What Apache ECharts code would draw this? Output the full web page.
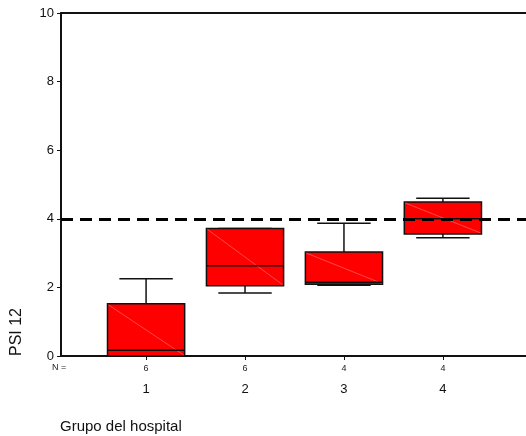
<!DOCTYPE html>
<html>
<head>
<meta charset="utf-8">
<script src="https://cdn.jsdelivr.net/npm/echarts@6/dist/echarts.min.js"></script>
<style>
html,body{margin:0;padding:0;background:#fff;}
#chart{width:526px;height:436px;}
</style>
</head>
<body>
<div id="chart"></div>
<script>
const groups = [1, 2, 3, 4];
const counts = [6, 6, 4, 4];
const minV = [0, 1.84, 2.06, 3.45];
const q1V = [0, 2.05, 2.09, 3.56];
const medV = [0.17, 2.63, 2.15, 4.0];
const q3V = [1.52, 3.72, 3.03, 4.49];
const maxV = [2.25, 3.72, 3.87, 4.60];
const refValue = 4;
const yTicks = [0, 2, 4, 6, 8, 10];

const chart = echarts.init(document.getElementById('chart'));
const boxHalf = 0.39;
const capHalf = 0.27;
const FONT = 'Liberation Sans, Arial, sans-serif';

const data = groups.map((g, i) => [g, minV[i], q1V[i], medV[i], q3V[i], maxV[i]]);

function renderItem(params, api) {
  const x = api.value(0);
  const mn = api.value(1), q1 = api.value(2), md = api.value(3), q3 = api.value(4), mx = api.value(5);
  const pL = (y) => api.coord([x - boxHalf, y]);
  const pR = (y) => api.coord([x + boxHalf, y]);
  const cL = (y) => api.coord([x - capHalf, y]);
  const cR = (y) => api.coord([x + capHalf, y]);
  const c = (y) => api.coord([x, y]);
  const ls = { stroke: '#111', lineWidth: 1.5 };
  const children = [];
  children.push({ type: 'line', shape: { x1: c(q3)[0], y1: c(q3)[1], x2: c(mx)[0], y2: c(mx)[1] }, style: ls });
  children.push({ type: 'line', shape: { x1: cL(mx)[0], y1: cL(mx)[1], x2: cR(mx)[0], y2: cR(mx)[1] }, style: ls });
  children.push({ type: 'line', shape: { x1: c(q1)[0], y1: c(q1)[1], x2: c(mn)[0], y2: c(mn)[1] }, style: ls });
  children.push({ type: 'line', shape: { x1: cL(mn)[0], y1: cL(mn)[1], x2: cR(mn)[0], y2: cR(mn)[1] }, style: ls });
  const tl = pL(q3), br = pR(q1);
  children.push({ type: 'rect', shape: { x: tl[0], y: tl[1], width: br[0] - tl[0], height: br[1] - tl[1] },
    style: { fill: '#ff0000', stroke: '#111', lineWidth: 1.5 } });
  children.push({ type: 'line', shape: { x1: tl[0] + 1, y1: tl[1] + 1, x2: br[0] - 1, y2: br[1] - 1 },
    style: { stroke: 'rgba(255,170,170,0.7)', lineWidth: 0.6 } });
  children.push({ type: 'line', shape: { x1: pL(md)[0], y1: pL(md)[1], x2: pR(md)[0], y2: pR(md)[1] }, style: ls });
  return { type: 'group', children };
}

chart.setOption({
  animation: false,
  backgroundColor: '#fff',
  grid: { left: 61, right: 0, top: 13, bottom: 80 },
  xAxis: [{
    type: 'value', min: 0.14, max: 4.84,
    splitLine: { show: false },
    axisLine: { show: true, onZero: false, lineStyle: { color: '#111', width: 2 } },
    axisTick: { show: true, customValues: groups, length: 4, lineStyle: { color: '#111' } },
    axisLabel: {
      show: true, customValues: groups, margin: 6, lineHeight: 20,
      formatter: (v) => { const i = groups.indexOf(v); return '{n|' + counts[i] + '}\n{c|' + v + '}'; },
      rich: {
        n: { fontSize: 9, fontFamily: FONT, color: '#222', lineHeight: 14 },
        c: { fontSize: 13, fontFamily: FONT, color: '#111', lineHeight: 26 }
      }
    }
  }, {
    type: 'value', position: 'top', min: 0.14, max: 4.84,
    splitLine: { show: false },
    axisLine: { show: true, onZero: false, lineStyle: { color: '#111', width: 2 } },
    axisTick: { show: false }, axisLabel: { show: false }
  }],
  yAxis: {
    type: 'value', min: 0, max: 10, interval: 2,
    splitLine: { show: false },
    axisLine: { show: true, onZero: false, lineStyle: { color: '#111', width: 2 } },
    axisTick: { show: true, length: 4, lineStyle: { color: '#111' } },
    axisLabel: { fontSize: 13, fontFamily: FONT, color: '#111', margin: 7,
      formatter: (v) => yTicks.includes(v) ? String(v) : '' }
  },
  graphic: [
    { type: 'text', left: 52, top: 363, style: { text: 'N =', fontSize: 9, fontFamily: FONT, fill: '#222' } },
    { type: 'text', left: 60, top: 419, style: { text: 'Grupo del hospital', fontSize: 15, fontFamily: FONT, fill: '#111' } },
    { type: 'text', x: 17, y: 332, rotation: Math.PI / 2,
      style: { text: 'PSI 12', fontSize: 16, fontFamily: FONT, fill: '#111', align: 'center', verticalAlign: 'middle' } }
  ],
  series: [{
    type: 'custom',
    renderItem: renderItem,
    data: data,
    encode: { x: 0, y: [1, 2, 3, 4, 5] },
    clip: false,
    z: 2,
    markLine: {
      silent: true, symbol: 'none', z: 5,
      label: { show: false },
      lineStyle: { color: '#000', width: 3, type: [12, 7] },
      data: [{ yAxis: refValue }]
    }
  }]
});
</script>
</body>
</html>
